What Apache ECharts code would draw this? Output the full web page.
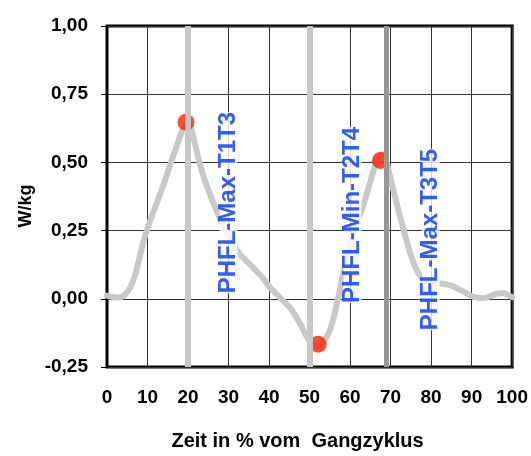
<!DOCTYPE html>
<html>
<head>
<meta charset="utf-8">
<script src="https://cdn.jsdelivr.net/npm/echarts@6/dist/echarts.min.js"></script>
<style>
  html, body { margin: 0; padding: 0; background: #fff; }
  #chart { width: 531px; height: 456px; }
</style>
</head>
<body>
<div id="chart"></div>
<script>
// Gait cycle (%) and hip power (W/kg)
const cyclePct = Array.from({ length: 101 }, (_, i) => i);
const hipPower = [
  0.012, 0.008, 0.005, 0.005, 0.010, 0.025, 0.050, 0.090, 0.150, 0.210,
  0.260, 0.300, 0.340, 0.380, 0.420, 0.465, 0.510, 0.550, 0.595, 0.630,
  0.645, 0.610, 0.550, 0.490, 0.440, 0.400, 0.360, 0.325, 0.290, 0.260,
  0.235, 0.205, 0.180, 0.160, 0.145, 0.130, 0.115, 0.100, 0.085, 0.065,
  0.045, 0.030, 0.015, 0.000, -0.015, -0.030, -0.050, -0.075, -0.100, -0.130,
  -0.155, -0.170, -0.175, -0.165, -0.145, -0.115, -0.065, 0.000, 0.070, 0.140,
  0.200, 0.250, 0.290, 0.330, 0.380, 0.430, 0.480, 0.520, 0.530, 0.500,
  0.440, 0.380, 0.320, 0.265, 0.210, 0.160, 0.120, 0.090, 0.072, 0.062,
  0.060, 0.058, 0.057, 0.055, 0.052, 0.048, 0.042, 0.034, 0.026, 0.017,
  0.010, 0.005, 0.003, 0.003, 0.006, 0.012, 0.018, 0.020, 0.020, 0.014,
  0.006
];

// Extremes of the curve
const extremePct = [19.5, 52.1, 67.5];
const extremePower = [0.647, -0.167, 0.507];

// Event lines across the cycle
const eventPct = [20, 50, 69];

// Phase labels and where they sit (bottom end of the vertical text)
const phaseNames = ['PHFL-Max-T1T3', 'PHFL-Min-T2T4', 'PHFL-Max-T3T5'];
const phasePct = [30, 60.6, 79.9];
const phasePower = [0.02, -0.015, -0.115];

// Axis ticks
const xTicks = { min: 0, max: 100, step: 10 };
const yTicks = { min: -0.25, max: 1.0, step: 0.25 };

const FONT = "'Liberation Sans', Arial, sans-serif";

const chart = echarts.init(document.getElementById('chart'), null, { renderer: 'canvas' });

chart.setOption({
  animation: false,
  backgroundColor: '#fff',
  grid: {
    left: 107, right: 17, top: 26, bottom: 85.5,
    show: true, borderColor: '#000', borderWidth: 3, backgroundColor: '#fff'
  },
  xAxis: {
    type: 'value',
    min: xTicks.min, max: xTicks.max, interval: xTicks.step,
    axisLine: { show: false },
    axisTick: { show: false },
    splitLine: { show: true, lineStyle: { color: '#333', width: 1 } },
    axisLabel: { fontFamily: FONT, fontSize: 19, fontWeight: 'bold', color: '#000', margin: 21 },
    name: 'Zeit in % vom  Gangzyklus',
    nameLocation: 'middle',
    nameGap: 64,
    nameTextStyle: { fontFamily: FONT, fontSize: 20, fontWeight: 'bold', color: '#000', padding: [0, 24, 0, 0] }
  },
  yAxis: {
    type: 'value',
    min: yTicks.min, max: yTicks.max, interval: yTicks.step,
    axisLine: { show: true, lineStyle: { color: '#000', width: 2 } },
    axisTick: { show: true, length: 6, lineStyle: { color: '#000', width: 1 } },
    splitLine: { show: true, lineStyle: { color: '#333', width: 1 } },
    axisLabel: {
      fontFamily: FONT, fontSize: 19, fontWeight: 'bold', color: '#000', margin: 19,
      formatter: v => v.toFixed(2).replace('.', ',')
    }
  },
  graphic: [{
    type: 'text',
    x: 26, y: 206,
    rotation: Math.PI / 2,
    style: {
      text: 'W/kg', fontFamily: FONT, fontSize: 18, fontWeight: 'bold', fill: '#000',
      align: 'center', verticalAlign: 'middle'
    }
  }],
  series: [
    {
      // vertical event markers
      type: 'scatter',
      data: [],
      z: 1,
      silent: true,
      markLine: {
        silent: true,
        symbol: 'none',
        label: { show: false },
        animation: false,
        data: [
          { xAxis: eventPct[0], lineStyle: { color: '#c8c8c8', width: 6, type: 'solid' } },
          { xAxis: eventPct[1], lineStyle: { color: '#c8c8c8', width: 6, type: 'solid' } },
          { xAxis: eventPct[2], lineStyle: { color: '#969696', width: 5, type: 'solid' } }
        ]
      }
    },
    {
      type: 'line',
      z: 2,
      silent: true,
      showSymbol: false,
      smooth: 0.3,
      lineStyle: { color: '#c8c8c8', width: 6, cap: 'round', join: 'round' },
      data: cyclePct.map((x, i) => [x, hipPower[i]])
    },
    {
      type: 'scatter',
      z: 3,
      silent: true,
      symbol: 'circle',
      symbolSize: 17,
      itemStyle: { color: '#ff2200' },
      data: extremePct.map((x, i) => [x, extremePower[i]])
    },
    {
      type: 'scatter',
      z: 4,
      silent: true,
      symbolSize: 0,
      data: phasePct.map((x, i) => ({ value: [x, phasePower[i]], name: phaseNames[i] })),
      label: {
        show: true,
        position: 'inside',
        rotate: 90,
        align: 'left',
        verticalAlign: 'middle',
        formatter: p => p.name,
        fontFamily: FONT,
        fontSize: 24,
        fontWeight: 'bold',
        color: '#0033ff',
        backgroundColor: '#fff',
        lineHeight: 18,
        padding: 0
      }
    }
  ]
});
</script>
</body>
</html>
